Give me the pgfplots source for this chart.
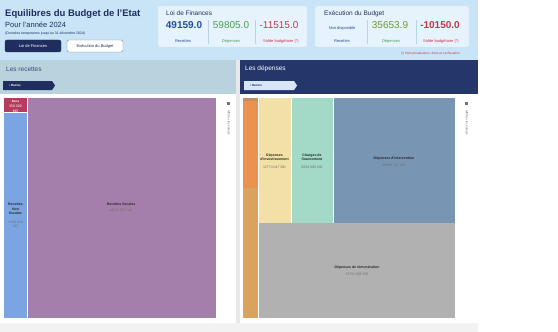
\documentclass[border=0pt]{standalone}
\usepackage{pgfplots}
\pgfplotsset{compat=1.18}
\usepackage{fontspec}
\setmainfont{Liberation Sans}
\definecolor{hdrbg}{HTML}{C8E4F6}
\definecolor{cardbg}{HTML}{E6F3FC}
\definecolor{cardbd}{HTML}{D6E8F4}
\definecolor{navy}{HTML}{1F2E5E}
\definecolor{rechdr}{HTML}{B8D2DE}
\definecolor{dephdr}{HTML}{25366A}
\definecolor{taglt}{HTML}{D9E6F7}
\definecolor{cDons}{HTML}{B83A5E}
\definecolor{cNonF}{HTML}{7BA5E2}
\definecolor{cFisc}{HTML}{A57FAC}
\definecolor{cBrown}{HTML}{C39062}
\definecolor{cOrange}{HTML}{EA9250}
\definecolor{cTan}{HTML}{D9A35F}
\definecolor{cYellow}{HTML}{F3E0A6}
\definecolor{cTeal}{HTML}{A3D9C7}
\definecolor{cBlueGray}{HTML}{7895B3}
\definecolor{cGray}{HTML}{B1B1B1}
\definecolor{vBlue}{HTML}{1F4E9E}
\definecolor{vGreen}{HTML}{4E9A56}
\definecolor{vOlive}{HTML}{6A9A34}
\definecolor{vRed}{HTML}{C2374B}
\definecolor{sep}{HTML}{B9D4E6}
\newcommand\R[5]{\addplot[fill=#1,draw=none,forget plot] coordinates {(#2,#3) (#4,#3) (#4,#5) (#2,#5)} --cycle;}
\begin{document}
\begin{tikzpicture}
\begin{axis}[width=558bp,height=332bp,scale only axis,xmin=0,xmax=558,ymin=0,ymax=332,
  y dir=reverse,hide axis,clip=false]
% backgrounds
\R{white}{0}{0}{558}{332}
\R{hdrbg}{0}{0}{478}{60}
\R{white}{0}{60}{478}{323}
\R{black!5}{0}{323}{478}{332}
\R{black!9}{236}{60}{240}{323}
\R{rechdr}{0}{60}{236}{94}
\R{dephdr}{240}{60}{478}{94}
% cards
\draw[cardbd,fill=cardbg,rounded corners=2bp] (axis cs:158,6) rectangle (axis cs:307,47);
\draw[cardbd,fill=cardbg,rounded corners=2bp] (axis cs:315,6) rectangle (axis cs:469,47);
% title
\node[anchor=west,font=\fontsize{9.5bp}{10bp}\selectfont\bfseries,text=navy,inner sep=0] at (axis cs:5,14) {Equilibres du Budget de l'Etat};
\node[anchor=west,font=\fontsize{7.5bp}{8bp}\selectfont,text=navy,inner sep=0] at (axis cs:5,25) {Pour l'année 2024};
\node[anchor=west,font=\fontsize{3.5bp}{4bp}\selectfont,text=navy,inner sep=0] at (axis cs:5,33.5) {(Données temporaires jusqu'au 31 décembre 2024)};
\draw[navy,fill=navy,rounded corners=2bp] (axis cs:5,40) rectangle (axis cs:61,52);
\node[font=\fontsize{4bp}{4.5bp}\selectfont,text=white,inner sep=0] at (axis cs:33,46) {Loi de Finances};
\draw[navy!60,fill=white,rounded corners=2bp] (axis cs:67,40) rectangle (axis cs:123,52);
\node[font=\fontsize{4bp}{4.5bp}\selectfont,text=navy,inner sep=0] at (axis cs:95,46) {Exécution du Budget};
% card 1
\node[anchor=west,font=\fontsize{6.5bp}{7bp}\selectfont,text=navy,inner sep=0] at (axis cs:166,13.5) {Loi de Finances};
\draw[sep] (axis cs:208,20) -- (axis cs:208,44);
\draw[sep] (axis cs:255,20) -- (axis cs:255,44);
\node[font=\fontsize{10bp}{11bp}\selectfont\bfseries,text=vBlue,inner sep=0] at (axis cs:184,25) {49159.0};
\node[font=\fontsize{10bp}{11bp}\selectfont,text=vGreen,inner sep=0] at (axis cs:231,25) {59805.0};
\node[font=\fontsize{10bp}{11bp}\selectfont,text=vRed,inner sep=0] at (axis cs:279,25) {-11515.0};
\node[font=\fontsize{4bp}{4.5bp}\selectfont,text=vBlue,inner sep=0] at (axis cs:183,41.5) {Recettes};
\node[font=\fontsize{4bp}{4.5bp}\selectfont,text=vGreen,inner sep=0] at (axis cs:231,41.5) {Dépenses};
\node[font=\fontsize{4bp}{4.5bp}\selectfont,text=vRed,inner sep=0] at (axis cs:281,41.5) {Solde budgétaire (*)};
% card 2
\node[anchor=west,font=\fontsize{6.5bp}{7bp}\selectfont,text=navy,inner sep=0] at (axis cs:324,13.5) {Exécution du Budget};
\draw[sep] (axis cs:367,20) -- (axis cs:367,44);
\draw[sep] (axis cs:416,20) -- (axis cs:416,44);
\node[font=\fontsize{4bp}{4.5bp}\selectfont,text=vBlue,inner sep=0] at (axis cs:342,28) {Non disponible};
\node[font=\fontsize{10bp}{11bp}\selectfont,text=vOlive,inner sep=0] at (axis cs:390,25) {35653.9};
\node[font=\fontsize{10bp}{11bp}\selectfont\bfseries,text=vRed,inner sep=0] at (axis cs:440,25) {-10150.0};
\node[font=\fontsize{4bp}{4.5bp}\selectfont,text=vBlue,inner sep=0] at (axis cs:342,41.5) {Recettes};
\node[font=\fontsize{4bp}{4.5bp}\selectfont,text=vGreen,inner sep=0] at (axis cs:391,41.5) {Dépenses};
\node[font=\fontsize{4bp}{4.5bp}\selectfont,text=vRed,inner sep=0] at (axis cs:441,41.5) {Solde budgétaire (*)};
\node[anchor=east,font=\fontsize{3.2bp}{3.5bp}\selectfont,text=vRed,inner sep=0] at (axis cs:460,53.5) {(*) Hors privatisation, dons et confiscation};
% panel headers
\node[anchor=west,font=\fontsize{6.5bp}{7bp}\selectfont,text=navy!85,inner sep=0] at (axis cs:6,69) {Les recettes};
\fill[navy] (axis cs:3,81) -- (axis cs:52,81) -- (axis cs:55,85.5) -- (axis cs:52,90) -- (axis cs:3,90) -- cycle;
\node[anchor=west,font=\fontsize{3bp}{3.5bp}\selectfont\bfseries,text=white,inner sep=0] at (axis cs:9,85.5) {\textbullet\ Racine};
\node[anchor=west,font=\fontsize{6.5bp}{7bp}\selectfont,text=white,inner sep=0] at (axis cs:245,69) {Les dépenses};
\fill[taglt] (axis cs:244,81) -- (axis cs:294,81) -- (axis cs:297,85.5) -- (axis cs:294,90) -- (axis cs:244,90) -- cycle;
\node[anchor=west,font=\fontsize{3bp}{3.5bp}\selectfont\bfseries,text=navy,inner sep=0] at (axis cs:250,85.5) {\textbullet\ Racine};
% treemap recettes
\R{cDons}{4}{98}{27}{112}
\R{cNonF}{4}{112}{27}{318}
\R{cFisc}{27}{98}{216}{318}
\draw[white,line width=0.4bp] (axis cs:27,98) -- (axis cs:27,318);
\draw[white,line width=0.4bp] (axis cs:4,112) -- (axis cs:27,112);
\node[font=\fontsize{3bp}{3.5bp}\selectfont\bfseries,text=white,inner sep=0] at (axis cs:15.5,101) {Dons};
\node[font=\fontsize{3.5bp}{4bp}\selectfont,text=white!85,inner sep=0] at (axis cs:15.5,106.5) {350 000};
\node[font=\fontsize{3.5bp}{4bp}\selectfont,text=white!85,inner sep=0] at (axis cs:15.5,111) {MD};
\node[align=center,font=\fontsize{3.5bp}{4.2bp}\selectfont\bfseries,text=black!85,inner sep=0] at (axis cs:15.5,209) {Recettes\\Non\\fiscales};
\node[align=center,font=\fontsize{3.5bp}{4.2bp}\selectfont,text=black!55,inner sep=0] at (axis cs:15.5,224) {4760 000\\MD};
\node[font=\fontsize{3.5bp}{4bp}\selectfont\bfseries,text=black!85,inner sep=0] at (axis cs:121,204.5) {Recettes fiscales};
\node[font=\fontsize{3.5bp}{4bp}\selectfont,text=black!55,inner sep=0] at (axis cs:121,210.5) {44040 000 MD};
\fill[black!55] (axis cs:226.5,101.5) rectangle (axis cs:229.5,104.5);
\node[rotate=-90,anchor=west,font=\fontsize{3bp}{3.5bp}\selectfont,text=black!60,inner sep=0] at (axis cs:229,110) {Afficher les valeurs};
% treemap depenses
\R{cBrown}{243}{98}{258}{101}
\R{cOrange}{243}{101}{258}{188}
\R{cTan}{243}{188}{258}{318}
\R{cYellow}{258}{98}{291}{223}
\R{cTeal}{291}{98}{333}{223}
\R{cBlueGray}{333}{98}{455}{223}
\R{cGray}{258}{223}{455}{318}
\draw[white,line width=0.3bp] (axis cs:258,98) -- (axis cs:258,318) (axis cs:291,98) -- (axis cs:291,223) (axis cs:333,98) -- (axis cs:333,223);
\begin{scope}
\clip (axis cs:258,98) rectangle (axis cs:291,223);
\node[align=center,font=\fontsize{3.5bp}{4.2bp}\selectfont\bfseries,text=black!85,inner sep=0] at (axis cs:274.5,157) {Dépenses\\d'investissement};
\node[font=\fontsize{3.5bp}{4bp}\selectfont,text=black!55,inner sep=0] at (axis cs:274.5,167) {12774 047 MD};
\end{scope}
\node[align=center,font=\fontsize{3.5bp}{4.2bp}\selectfont\bfseries,text=black!85,inner sep=0] at (axis cs:312,157) {Charges de\\financement};
\node[font=\fontsize{3.5bp}{4bp}\selectfont,text=black!55,inner sep=0] at (axis cs:312,167) {6838 000 MD};
\node[font=\fontsize{3.5bp}{4bp}\selectfont\bfseries,text=black!85,inner sep=0] at (axis cs:394,158.5) {Dépenses d'intervention};
\node[font=\fontsize{3.5bp}{4bp}\selectfont,text=black!55,inner sep=0] at (axis cs:394,165) {19696 187 MD};
\node[font=\fontsize{3.5bp}{4bp}\selectfont\bfseries,text=black!85,inner sep=0] at (axis cs:357,267.5) {Dépenses de rémunération};
\node[font=\fontsize{3.5bp}{4bp}\selectfont,text=black!55,inner sep=0] at (axis cs:357,274) {23711 066 MD};
\fill[black!55] (axis cs:464.5,101.5) rectangle (axis cs:467.5,104.5);
\node[rotate=-90,anchor=west,font=\fontsize{3bp}{3.5bp}\selectfont,text=black!60,inner sep=0] at (axis cs:467,110) {Afficher les valeurs};
\end{axis}
\end{tikzpicture}
\end{document}
